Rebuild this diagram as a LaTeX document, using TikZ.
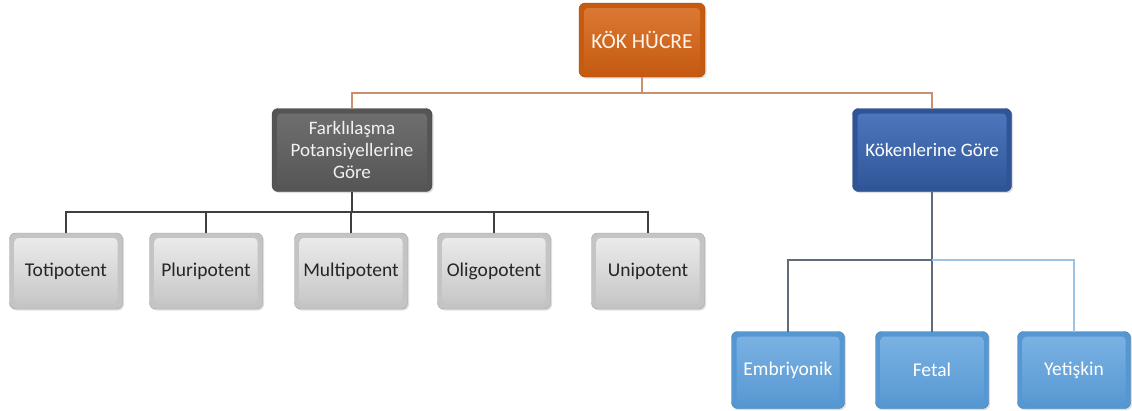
\documentclass[tikz,border=0pt]{standalone}
\usepackage{fontspec}
\setmainfont{Carlito}
\usetikzlibrary{shadows}
\definecolor{orA}{HTML}{C55A11}
\definecolor{orB}{HTML}{DC7A35}
\definecolor{dgA}{HTML}{555555}
\definecolor{dgB}{HTML}{707070}
\definecolor{dbA}{HTML}{2F5597}
\definecolor{dbB}{HTML}{4E78BE}
\definecolor{lgA}{HTML}{C4C4C4}
\definecolor{lgB}{HTML}{EDEDED}
\definecolor{lbA}{HTML}{5597D2}
\definecolor{lbB}{HTML}{7DB3E3}
\definecolor{tanline}{HTML}{C99070}
\definecolor{grayline}{HTML}{3F3F3F}
\definecolor{slateline}{HTML}{5E6C7A}
\definecolor{skyline}{HTML}{9CC3E6}
\tikzset{
  box/.style={rounded corners=6pt, outer sep=0pt, inner sep=2pt, align=center,
    drop shadow={opacity=0.25, shadow xshift=1.5pt, shadow yshift=-1.5pt}},
  bevel/.style 2 args={box, fill=#1, draw=#1!80!black, line width=0.4pt,
    path picture={\shade[top color=#2, bottom color=#1, rounded corners=4pt]
      ([shift={(5pt,5pt)}]path picture bounding box.south west) rectangle
      ([shift={(-5pt,-5pt)}]path picture bounding box.north east);}},
  rootbox/.style={bevel={orA}{orB}, minimum width=126pt, minimum height=74pt,
    text=white!92!orange, font=\fontsize{21.5}{25}\selectfont},
  midgray/.style={bevel={dgA}{dgB}, minimum width=160pt, minimum height=83pt,
    text=white!95!black, font=\fontsize{19}{22}\selectfont},
  midblue/.style={bevel={dbA}{dbB}, minimum width=159pt, minimum height=83pt,
    text=white, font=\fontsize{19}{22}\selectfont},
  leafgray/.style={bevel={lgA}{lgB}, minimum width=113pt, minimum height=76pt,
    text=black!85, font=\fontsize{19.5}{22}\selectfont},
  leafblue/.style={bevel={lbA}{lbB}, minimum width=113pt, minimum height=77pt,
    text=white, font=\fontsize{19.5}{22}\selectfont},
  tanconn/.style={draw=tanline, line width=1.3pt},
  grayconn/.style={draw=grayline, line width=1.4pt},
  slateconn/.style={draw=slateline, line width=1.3pt},
  skyconn/.style={draw=skyline, line width=1.5pt}
}
\begin{document}
\begin{tikzpicture}[x=1pt,y=-1pt]
\useasboundingbox (0,0) rectangle (1132,410);
% nodes
\node[rootbox] (kok) at (642,40) {KÖK HÜCRE};
\node[midgray] (fark) at (352,150) {Farklılaşma\\Potansiyellerine\\Göre};
\node[midblue] (koken) at (932,150) {Kökenlerine Göre};
\node[leafgray] (toti) at (66,271) {Totipotent};
\node[leafgray] (pluri) at (206,271) {Pluripotent};
\node[leafgray] (multi) at (351,271) {Multipotent};
\node[leafgray] (oligo) at (494,271) {Oligopotent};
\node[leafgray] (uni) at (648,271) {Unipotent};
\node[leafblue] (emb) at (788,370) {Embriyonik};
\node[leafblue] (fetal) at (932,370) {Fetal};
\node[leafblue] (yet) at (1074,370) {Yetişkin};
% bus levels
\coordinate (b1) at (0,93);
\coordinate (b2) at (0,212);
\coordinate (b3) at (0,260);
% connectors
\draw[tanconn] (kok.south) -- (kok.south |- b1);
\draw[tanconn] (fark.north) |- (kok.south |- b1) -| (koken.north);
\draw[grayconn] (fark.south) -- (fark.south |- b2);
\draw[grayconn] (toti.north) |- (fark.south |- b2) -| (uni.north);
\draw[grayconn] (pluri.north) -- (pluri.north |- b2);
\draw[grayconn] (multi.north) -- (multi.north |- b2);
\draw[grayconn] (oligo.north) -- (oligo.north |- b2);
\draw[slateconn] (koken.south) -- (koken.south |- b3);
\draw[slateconn] (emb.north) |- (koken.south |- b3);
\draw[slateconn] (fetal.north) -- (fetal.north |- b3);
\draw[skyconn] (koken.south |- b3) -| (yet.north);
\end{tikzpicture}
\end{document}
